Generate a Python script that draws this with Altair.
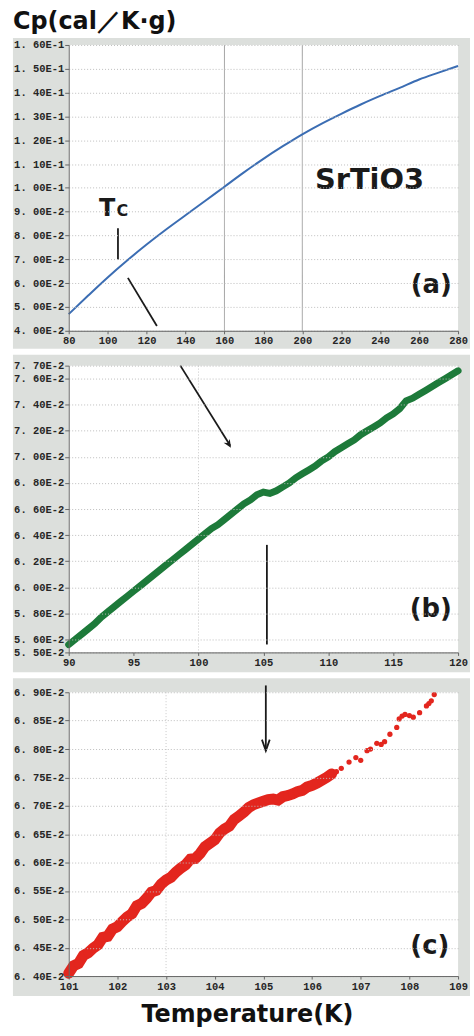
import altair as alt
import pandas as pd

# ---------------- data ----------------
# panel (a): 80-280 K
T_a = [80, 90, 100, 110, 120, 130, 140, 150, 160, 170, 180, 190, 200, 210, 220, 230, 240, 250, 260, 270, 280]
cp_a = [0.0470, 0.0548, 0.0624, 0.0695, 0.0762, 0.0825, 0.0885, 0.0945, 0.1005, 0.1065, 0.1122,
        0.1175, 0.1225, 0.1270, 0.1311, 0.1350, 0.1386, 0.1420, 0.1455, 0.1484, 0.1512]

# panel (b): 90-120 K
T_b = [90.0, 90.5, 91.0, 91.5, 92.0, 92.5, 93.0, 93.5, 94.0, 94.5, 95.0, 95.5, 96.0, 96.5, 97.0, 97.5,
       98.0, 98.5, 99.0, 99.5, 100.0, 100.5, 101.0, 101.5, 102.0, 102.5, 103.0, 103.5, 104.0, 104.5,
       105.0, 105.5, 106.0, 106.5, 107.0, 107.5, 108.0, 108.5, 109.0, 109.5, 110.0, 110.5, 111.0, 111.5,
       112.0, 112.5, 113.0, 113.5, 114.0, 114.5, 115.0, 115.5, 116.0, 116.5, 117.0, 117.5, 118.0, 118.5,
       119.0, 119.5, 120.0]
cp_b = [0.0556, 0.0560, 0.0564, 0.0568, 0.0572, 0.0577, 0.0581, 0.0585, 0.0589, 0.0593, 0.0597, 0.0601,
        0.0605, 0.0609, 0.0613, 0.0617, 0.0621, 0.0625, 0.0629, 0.0633, 0.0637, 0.0641, 0.0645, 0.0648,
        0.0652, 0.0656, 0.0660, 0.0664, 0.0667, 0.0671, 0.0673, 0.0672, 0.0674, 0.0677, 0.0680, 0.0684,
        0.0687, 0.0690, 0.0693, 0.0697, 0.0700, 0.0704, 0.0707, 0.0710, 0.0713, 0.0717, 0.0720, 0.0723,
        0.0726, 0.0730, 0.0733, 0.0737, 0.0743, 0.0745, 0.0748, 0.0751, 0.0754, 0.0757, 0.0760, 0.0763,
        0.0766]

# panel (c): 101-109 K, dense part and sparse part
T_c_dense = [101.0, 101.1, 101.2, 101.3, 101.4, 101.5, 101.6, 101.7, 101.8, 101.9, 102.0, 102.1, 102.2,
             102.3, 102.4, 102.5, 102.6, 102.7, 102.8, 102.9, 103.0, 103.1, 103.2, 103.3, 103.4, 103.5,
             103.6, 103.7, 103.8, 103.9, 104.0, 104.1, 104.2, 104.3, 104.4, 104.5, 104.6, 104.7, 104.8,
             104.9, 105.0, 105.1, 105.2, 105.3, 105.4, 105.5, 105.6, 105.7, 105.8, 105.9, 106.0, 106.1,
             106.2, 106.3, 106.4]
cp_c_dense = [0.06405, 0.06418, 0.06422, 0.06436, 0.06441, 0.06449, 0.06455, 0.06468, 0.06470, 0.06483,
              0.06487, 0.06496, 0.06504, 0.06510, 0.06524, 0.06528, 0.06537, 0.06548, 0.06551, 0.06562,
              0.06569, 0.06574, 0.06583, 0.06590, 0.06596, 0.06606, 0.06607, 0.06616, 0.06628, 0.06634,
              0.06640, 0.06652, 0.06659, 0.06664, 0.06676, 0.06682, 0.06689, 0.06697, 0.06702, 0.06705,
              0.06708, 0.06711, 0.06712, 0.06710, 0.06716, 0.06718, 0.06721, 0.06725, 0.06727, 0.06733,
              0.06736, 0.06740, 0.06745, 0.06750, 0.06756]
T_c_sparse = [106.5, 106.6, 106.76, 106.9, 107.0, 107.13, 107.2, 107.33, 107.42, 107.49, 107.6, 107.74,
              107.79, 107.85, 107.91, 108.0, 108.08, 108.21, 108.35, 108.4, 108.45, 108.51]
cp_c_sparse = [0.06760, 0.06766, 0.06777, 0.06785, 0.06780, 0.06797, 0.06800, 0.06810, 0.06808, 0.06813,
               0.06826, 0.06838, 0.06853, 0.06858, 0.06861, 0.06859, 0.06856, 0.06864, 0.06876, 0.06880,
               0.06885, 0.06896]

# axis tick values
xt_a = [80, 100, 120, 140, 160, 180, 200, 220, 240, 260, 280]
yt_a = [0.04, 0.05, 0.06, 0.07, 0.08, 0.09, 0.10, 0.11, 0.12, 0.13, 0.14, 0.15, 0.16]
xt_b = [90, 95, 100, 105, 110, 115, 120]
yt_b = [0.055, 0.056, 0.058, 0.060, 0.062, 0.064, 0.066, 0.068, 0.070, 0.072, 0.074, 0.076, 0.077]
xt_c = [101, 102, 103, 104, 105, 106, 107, 108, 109]
yt_c = [0.064, 0.0645, 0.065, 0.0655, 0.066, 0.0665, 0.067, 0.0675, 0.068, 0.0685, 0.069]

# ---------------- styling ----------------
W = 391
TXT = "DejaVu Sans"
AXF = "Liberation Mono"
GRAY = "#dcdfdc"
INK = "#1a1a1a"
LABEL_EXPR = "replace(upper(format(datum.value, '.2e')), '.', '. ')"

AX_COMMON = dict(labelFont=AXF, labelFontSize=10.5, labelFontWeight="bold", labelColor="#262626",
                 domainColor="#666", tickColor="#666", gridColor="#bdbdbd", gridDash=[1, 2],
                 gridWidth=1, zindex=1, labelOverlap=False, labelFlush=False)


def encs(xdom, ydom, xt, yt, xtitle=None):
    xaxis_kw = dict(values=xt, format="d", grid=False, tickSize=3, labelPadding=2, **AX_COMMON)
    if xtitle:
        xaxis_kw.update(titleFont=TXT, titleFontSize=24, titleFontWeight="bold",
                        titleColor="#111", titleX=179, titlePadding=11)
    xe = alt.X("T:Q", scale=alt.Scale(domain=xdom, nice=False, zero=False),
               axis=alt.Axis(**xaxis_kw), title=xtitle if xtitle else None)
    ye = alt.Y("Cp:Q", scale=alt.Scale(domain=ydom, nice=False, zero=False),
               axis=alt.Axis(values=yt, labelExpr=LABEL_EXPR, grid=True, tickSize=4,
                             labelPadding=1, **AX_COMMON),
               title=None)
    return xe, ye


def frame(h, top, bottom):
    base = alt.Chart(pd.DataFrame({"k": [0]}))
    g = base.mark_rect(color=GRAY).encode(x=alt.value(-56), x2=alt.value(W + 12),
                                          y=alt.value(-top), y2=alt.value(h + bottom))
    w = base.mark_rect(color="white").encode(x=alt.value(0), x2=alt.value(W),
                                             y=alt.value(0), y2=alt.value(h))
    return [g, w]


def segs(xe, ye, rows, width=1.8):
    df = pd.DataFrame(rows, columns=["T", "Cp", "T2", "Cp2"])
    return alt.Chart(df).mark_rule(color=INK, strokeWidth=width).encode(
        x=xe, y=ye, x2="T2:Q", y2="Cp2:Q")


def label(xe, ye, t, cp, text, size, align="center", baseline="middle"):
    df = pd.DataFrame({"T": [t], "Cp": [cp], "txt": [text]})
    return alt.Chart(df).mark_text(font=TXT, fontWeight="bold", fontSize=size, color=INK,
                                   align=align, baseline=baseline).encode(x=xe, y=ye, text="txt:N")


def vgrid(xe, vals, color, dash):
    df = pd.DataFrame({"T": vals})
    return alt.Chart(df).mark_rule(color=color, strokeWidth=1, strokeDash=dash).encode(x=xe)


# ---------------- panel (a) ----------------
Ha = 287
xa, ya = encs([80, 280], [0.04, 0.16], xt_a, yt_a)
df_a = pd.DataFrame({"T": T_a, "Cp": cp_a})
pa = alt.layer(
    *frame(Ha, 7, 18),
    vgrid(xa, [160, 200], "#a0a0a0", [1, 0]),
    alt.Chart(df_a).mark_line(color="#3b6db3", strokeWidth=2, interpolate="monotone").encode(x=xa, y=ya),
    segs(xa, ya, [[105.3, 0.0831, 105.3, 0.0699], [110.4, 0.0622, 125.3, 0.0420]]),
    label(xa, ya, 95.6, 0.0880, "T", 24, align="left", baseline="alphabetic"),
    label(xa, ya, 104.6, 0.0880, "C", 16, align="left", baseline="alphabetic"),
    label(xa, ya, 234.5, 0.1035, "SrTiO3", 29),
    label(xa, ya, 266.2, 0.0594, "(a)", 26),
).properties(width=W, height=Ha)

# ---------------- panel (b) ----------------
Hb = 288
xb, yb = encs([90, 120], [0.055, 0.077], xt_b, yt_b)
df_b = pd.DataFrame({"T": T_b, "Cp": cp_b})
head_b = pd.DataFrame({"T": [102.5], "Cp": [0.0707]})
pb = alt.layer(
    *frame(Hb, 11, 20),
    vgrid(xb, [100], "#c8c8c8", [1, 2]),
    alt.Chart(df_b).mark_line(color="#1d7a3a", strokeWidth=7, strokeCap="round").encode(x=xb, y=yb),
    segs(xb, yb, [[98.6, 0.0770, 102.45, 0.07085], [105.27, 0.06325, 105.27, 0.05561]]),
    alt.Chart(head_b).mark_point(shape="M0,0L-0.45,-1L0,-0.7L0.45,-1Z", filled=True, color=INK,
                                 opacity=1, size=260, angle=328).encode(x=xb, y=yb),
    label(xb, yb, 117.9, 0.0583, "(b)", 26),
).properties(width=W, height=Hb)

# ---------------- panel (c) ----------------
Hc = 285
xc, yc = encs([101, 109], [0.064, 0.069], xt_c, yt_c, xtitle="Temperature(K)")
df_cd = pd.DataFrame({"T": T_c_dense, "Cp": cp_c_dense})
df_cs = pd.DataFrame({"T": T_c_sparse, "Cp": cp_c_sparse})
head_c = pd.DataFrame({"T": [105.05], "Cp": [0.06797]})
RED = "#e3261e"
pc = alt.layer(
    *frame(Hc, 14, 20),
    vgrid(xc, [103], "#c8c8c8", [1, 2]),
    alt.Chart(df_cd).mark_line(color=RED, strokeWidth=11, strokeCap="round").encode(x=xc, y=yc),
    alt.Chart(df_cd).mark_circle(color=RED, size=85, opacity=1).encode(x=xc, y=yc),
    alt.Chart(df_cs).mark_circle(color=RED, size=28, opacity=1).encode(x=xc, y=yc),
    segs(xc, yc, [[105.05, 0.06912, 105.05, 0.06797]]),
    alt.Chart(head_c).mark_point(shape="M-0.35,-1L0,0L0.35,-1", filled=False, color=INK,
                                 strokeWidth=1.8, opacity=1, size=500).encode(x=xc, y=yc),
    label(xc, yc, 108.42, 0.06453, "(c)", 26),
).properties(width=W, height=Hc)

chart = alt.vconcat(pa, pb, pc, spacing=6).properties(
    title=alt.TitleParams("Cp(cal／K·g)", anchor="start", font=TXT, fontSize=24,
                          fontWeight="bold", color="#111", offset=4),
    padding={"left": 13, "right": 2, "top": 8, "bottom": 2},
).configure_view(strokeWidth=0)

chart.save("out.html", embed_options={"renderer": "svg", "actions": False})
